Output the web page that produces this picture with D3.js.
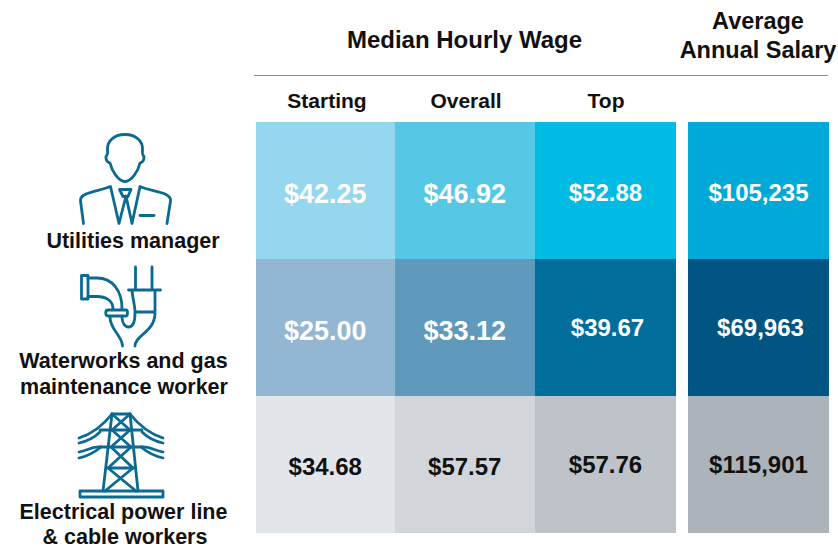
<!DOCTYPE html>
<html>
<head>
<meta charset="utf-8">
<script src="https://cdnjs.cloudflare.com/ajax/libs/d3/7.8.5/d3.min.js"></script>
<style>
html, body { margin: 0; padding: 0; background: #fff; }
svg { display: block; }
text { font-family: "Liberation Sans", Arial, sans-serif; font-weight: bold; }
.icon path { fill: none; stroke: #0a6a94; stroke-width: 2.8; stroke-linecap: round; stroke-linejoin: round; }
</style>
</head>
<body>
<script>
// table contents
var occupations = ["Utilities manager", "Waterworks and gas maintenance worker", "Electrical power line & cable workers"];
var columns = ["Starting", "Overall", "Top", "Average Annual Salary"];
var startingWage = [42.25, 25.00, 34.68];
var overallWage = [46.92, 33.12, 57.57];
var topWage = [52.88, 39.67, 57.76];
var annualSalary = [105235, 69963, 115901];

// one colour ramp per row, left to right
var rampManager = ["#95d7ee", "#57c7e6", "#00bbe3", "#00a9d8"];
var rampWaterworks = ["#93b7d3", "#5f9abd", "#006d9a", "#005582"];
var rampPowerLine = ["#e2e6ea", "#d2d6da", "#bdc3c8", "#adb3ba"];

var w = 838;
var h = 548;
var svg = d3.select("body").append("svg").attr("width", w).attr("height", h);

// the columns are not quite even, so left and right edges are separate scales
var xLeft = d3.scaleOrdinal().domain(columns).range([256, 394.5, 535, 688]);
var xRight = d3.scaleOrdinal().domain(columns).range([394.5, 535, 676, 829]);
var y = d3.scaleBand().domain(occupations).range([122, 533]);

var rowColor = d3.scaleOrdinal().domain(occupations).range([rampManager, rampWaterworks, rampPowerLine]);
var money = d3.format("$.2f");
var dollars = d3.format("$,");

// flatten to one record per cell
var cells = [];
occupations.forEach(function (occ, i) {
  cells.push({ occ: occ, row: i, col: 0, label: money(startingWage[i]) });
  cells.push({ occ: occ, row: i, col: 1, label: money(overallWage[i]) });
  cells.push({ occ: occ, row: i, col: 2, label: money(topWage[i]) });
  cells.push({ occ: occ, row: i, col: 3, label: dollars(annualSalary[i]) });
});

svg.selectAll("rect.cell").data(cells).enter().append("rect")
  .attr("class", "cell")
  .attr("x", function (d) { return xLeft(columns[d.col]); })
  .attr("y", function (d) { return y(d.occ); })
  .attr("width", function (d) { return xRight(columns[d.col]) - xLeft(columns[d.col]); })
  .attr("height", y.bandwidth())
  .attr("fill", function (d) { return rowColor(d.occ)[d.col]; });

// the big figures sit a little lower than the right hand ones
svg.selectAll("text.val").data(cells).enter().append("text")
  .attr("class", "val")
  .attr("x", function (d) {
    var mid = (xLeft(columns[d.col]) + xRight(columns[d.col])) / 2;
    return mid + (d.row == 1 && d.col >= 2 ? 2 : 0);
  })
  .attr("y", function (d) {
    var base = y(d.occ) + y.bandwidth() / 2 + 8;
    return base + (d.col < 2 ? 2 : 0) + (d.row == 0 ? 2 : 0) + (d.row == 1 && d.col < 2 ? 2 : 0);
  })
  .attr("text-anchor", "middle")
  .attr("font-size", function (d) { return (d.row < 2 && d.col < 2) ? 27 : 24; })
  .attr("fill", function (d) { return d.row == 2 ? "#111" : "#fff"; })
  .text(function (d) { return d.label; });

// headers
svg.append("line").attr("x1", 254).attr("x2", 828).attr("y1", 75.5).attr("y2", 75.5)
  .attr("stroke", "#8a8d90").attr("stroke-width", 1.2);

function label(txt, px, py, size) {
  svg.append("text").attr("x", px).attr("y", py).attr("text-anchor", "middle")
    .attr("font-size", size).attr("fill", "#111").text(txt);
}
label("Median Hourly Wage", 464.5, 48, 24);
label("Average", 758, 28.5, 23.5);
label("Annual Salary", 758, 57.5, 23.5);
["Starting", "Overall", "Top"].forEach(function (c, i) {
  label(c, [327, 466, 606][i], 107.5, 21);
});

// row captions
label("Utilities manager", 133, 248, 21.5);
label("Waterworks and gas", 123.5, 368, 21.5);
label("maintenance worker", 124, 394, 21.5);
label("Electrical power line", 123.5, 519, 21.5);
label("& cable workers", 125, 544, 21.5);

// icons
var person = svg.append("g").attr("class", "icon");
[
  "M125 134.5C113 134.5 107 142 107.5 150C107.5 153 108 154 107 155C105 157 106 162 110 163C112 172 119 181.5 125 181.5C131 181.5 138 172 140 163C144 162 145 157 143 155C142 154 142.5 153 142.5 150C143 142 137 134.5 125 134.5Z",
  "M83.5 223.5L80.5 201C80 197 83 195.5 86 194C94 191 103 189.5 110.5 186.5L119 223.5L126 196L132 223.5L140 186.5C148 190 158 191 165 194C169 196 171 198 170.5 201L167 223.5",
  "M119.5 189.5H131L128 196.5H123Z",
  "M140 215.5H154"
].forEach(function (d) { person.append("path").attr("d", d); });

var pipe = svg.append("g").attr("class", "icon");
[
  "M81.5 275.5H88V299H81.5Z",
  "M88 278H97C112 278 122 290 122 309",
  "M88 296.5H97C105 296.5 113 300 113 309",
  "M108 310H126C128 310 128 316 126 316H108C105 316 105 310 108 310Z",
  "M110 317C110 330 122 335 122.5 346",
  "M135 346C135 335 155 332 155 313",
  "M122 317C122 323 125 327 128.5 327C132 327 135 323 135 313",
  "M135.5 267V289M152 267V289",
  "M128.5 290H160.5M132 291C133 300 135 306 135 312H155V291"
].forEach(function (d) { pipe.append("path").attr("d", d); });

var tower = svg.append("g").attr("class", "icon");
[
  "M112 414H130",
  "M112 414L103 491M130 414L138 491",
  "M80 491H163V497H80Z",
  "M100 430H142M100 447H142",
  "M112 414C104 424 92 434 79 438M130 414C138 424 150 434 163 438",
  "M79 443C88 441 95 437 100 432M163 443C154 441 147 437 142 432",
  "M101 447C95 452 88 456 79 458M141 447C147 452 154 456 163 458",
  "M79 452C88 450 95 446 100 447M163 452C154 450 147 446 142 447",
  "M112 414L130 430L111 447L133 468L105 491M130 414L112 430L131 447L108 468L136 491",
  "M108 468H134"
].forEach(function (d) { tower.append("path").attr("d", d); });
</script>
</body>
</html>
